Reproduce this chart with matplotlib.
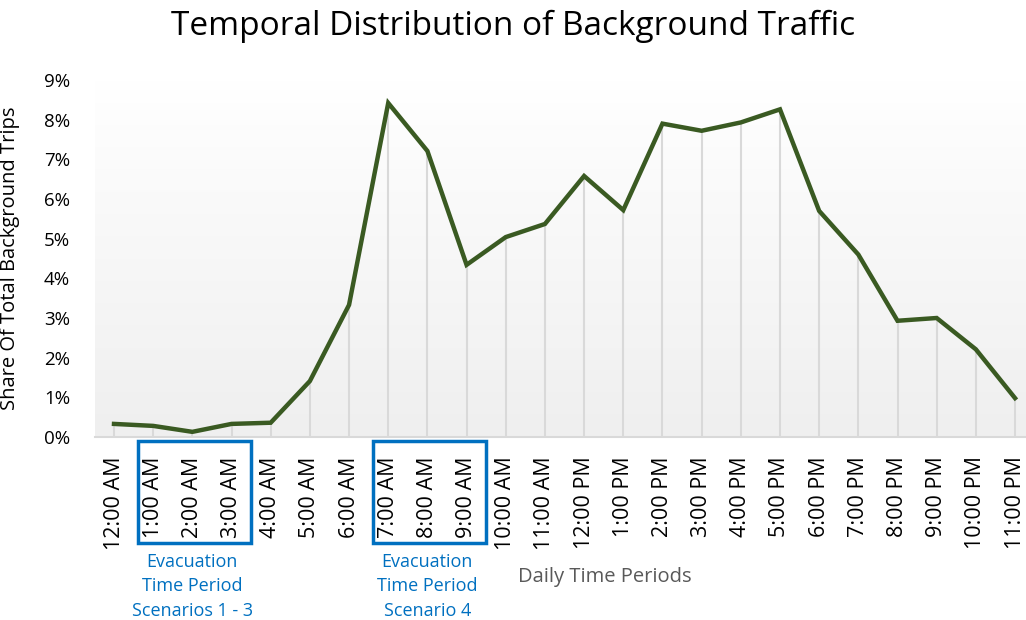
import numpy as np
import matplotlib
matplotlib.use("Agg")
import matplotlib.pyplot as plt
from matplotlib.colors import LinearSegmentedColormap
from matplotlib.patches import Rectangle
import matplotlib.transforms as mtransforms

hours = ["12:00 AM", "1:00 AM", "2:00 AM", "3:00 AM", "4:00 AM", "5:00 AM",
         "6:00 AM", "7:00 AM", "8:00 AM", "9:00 AM", "10:00 AM", "11:00 AM",
         "12:00 PM", "1:00 PM", "2:00 PM", "3:00 PM", "4:00 PM", "5:00 PM",
         "6:00 PM", "7:00 PM", "8:00 PM", "9:00 PM", "10:00 PM", "11:00 PM"]
share = [0.33, 0.28, 0.13, 0.33, 0.36, 1.41, 3.33, 8.42, 7.21, 4.34, 5.04, 5.37,
         6.58, 5.72, 7.90, 7.72, 7.93, 8.26, 5.70, 4.60, 2.93, 3.00, 2.21, 0.98]
boxGroups = [(1, 3), (7, 9)]
boxLabels = ["Evacuation\nTime Period\nScenarios 1 - 3", "Evacuation\nTime Period\nScenario 4"]

plt.rcParams["font.family"] = ["Open Sans", "DejaVu Sans"]
blue = "#0070C0"
green = "#3A5A22"

fig = plt.figure(figsize=(10.26, 6.2), dpi=100)
ax = fig.add_axes([95 / 1026, 1 - 437 / 620, 931 / 1026, 357 / 620])

x = np.arange(len(hours))

# gradient background
cmap = LinearSegmentedColormap.from_list("bg", ["#efefef", "#ffffff"])
ax.imshow(np.linspace(0, 1, 256).reshape(-1, 1), extent=[0, 1, 0, 1], transform=ax.transAxes,
          cmap=cmap, aspect="auto", origin="lower", zorder=0)

ax.vlines(x, 0, share, color="#d9d9d9", linewidth=1.5, zorder=1)
ax.plot(x, share, color=green, linewidth=3.2, solid_joinstyle="miter", zorder=3)

ax.set_xlim(-0.485, 23.28)
ax.set_ylim(0, 9)
ax.set_yticks(range(0, 10))
ax.set_yticklabels([f"{v}%" for v in range(0, 10)], fontsize=13.5)
ax.set_xticks(x)
ax.set_xticklabels(hours, rotation=90, fontsize=15.5)
ax.tick_params(axis="both", length=0)
ax.tick_params(axis="y", pad=18)
ax.tick_params(axis="x", pad=14)

for side in ["top", "right", "left"]:
    ax.spines[side].set_visible(False)
ax.spines["bottom"].set_color("#d9d9d9")
ax.spines["bottom"].set_linewidth(1.5)

ax.set_ylabel("Share Of Total Background Trips", fontsize=14.5)
ax.yaxis.set_label_coords(-0.0806, 0.5)

fig.suptitle("Temporal Distribution of Background Traffic", fontsize=24, y=0.985)

trans = mtransforms.blended_transform_factory(ax.transData, ax.transAxes)
for (a, b), lbl in zip(boxGroups, boxLabels):
    ax.add_patch(Rectangle((a - 0.4, -0.297), (b - a) + 0.9, 0.286, transform=trans,
                           fill=False, edgecolor=blue, linewidth=2.5, clip_on=False))
    ax.text((a + b) / 2, -0.325, lbl, transform=trans, ha="center", va="top",
            color=blue, fontsize=13, linespacing=1.45)

ax.text(12.53, -0.392, "Daily Time Periods", transform=trans, ha="center", va="center",
        color="#595959", fontsize=14.5)

plt.savefig("out.png", dpi=100)
